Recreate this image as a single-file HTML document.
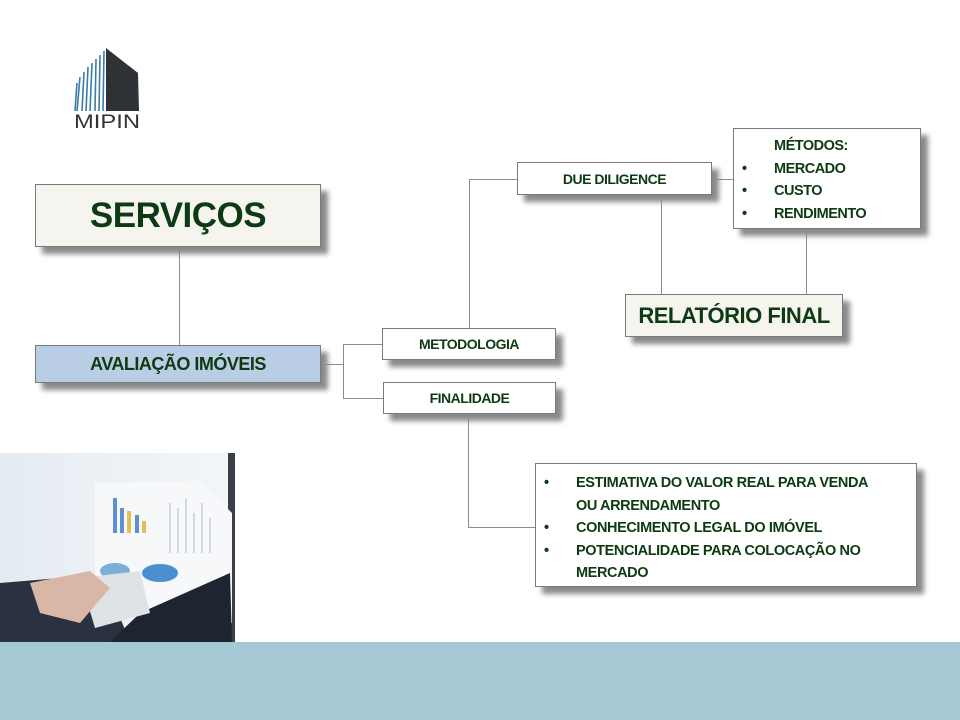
<!DOCTYPE html>
<html><head><meta charset="utf-8"><style>
body{margin:0;width:960px;height:720px;position:relative;background:#fff;overflow:hidden;font-family:"Liberation Sans",sans-serif;}
.b{position:absolute;box-sizing:border-box;border:1.5px solid #7a7a7a;background:#fff;box-shadow:7px 7px 5px #8a8a8a;color:#0d3a12;font-weight:bold;display:flex;align-items:center;justify-content:center;letter-spacing:-0.5px;}
.l{position:absolute;background:#8c8c8c;}
.h{height:1px}.v{width:1px}
ul{margin:0;padding:0;list-style:none}
li{position:relative;padding-left:40px}
li:before{content:"•";position:absolute;left:8px;}
</style></head><body>
<!-- logo -->
<svg style="position:absolute;left:70px;top:45px" width="75" height="85" viewBox="0 0 75 85">
<polygon points="36,3 68,28 69,66 36,66" fill="#2f3236"/>
<g stroke="#3a7ea8" stroke-width="1.6">
<line x1="34" y1="6" x2="33" y2="66"/><line x1="30" y1="10" x2="29" y2="66"/><line x1="26" y1="14" x2="25" y2="66"/><line x1="22" y1="18" x2="20" y2="66"/><line x1="18" y1="22" x2="16" y2="66"/><line x1="14" y1="27" x2="12" y2="66"/><line x1="10" y1="32" x2="7" y2="66"/><line x1="7" y1="38" x2="5" y2="66"/>
</g>
<text x="37" y="83" text-anchor="middle" font-family="Liberation Sans" font-size="19" fill="#333" textLength="66" lengthAdjust="spacingAndGlyphs">MIPIN</text>
</svg>

<!-- connectors -->
<div class="l v" style="left:179px;top:247px;height:98px"></div>
<div class="l h" style="left:321px;top:364px;width:22px"></div>
<div class="l v" style="left:343px;top:344px;height:55px"></div>
<div class="l h" style="left:343px;top:344px;width:39px"></div>
<div class="l h" style="left:343px;top:398px;width:40px"></div>
<div class="l v" style="left:469px;top:179px;height:149px"></div>
<div class="l h" style="left:469px;top:179px;width:48px"></div>
<div class="l h" style="left:712px;top:179px;width:21px"></div>
<div class="l v" style="left:661px;top:195px;height:99px"></div>
<div class="l v" style="left:806px;top:229px;height:65px"></div>
<div class="l v" style="left:468px;top:414px;height:113px"></div>
<div class="l h" style="left:468px;top:527px;width:67px"></div>

<div class="b" style="left:35px;top:184px;width:286px;height:63px;background:#f5f4ef;font-size:35px;">SERVIÇOS</div>
<div class="b" style="left:35px;top:345px;width:286px;height:38px;background:#b9cde4;font-size:18px;">AVALIAÇÃO IMÓVEIS</div>
<div class="b" style="left:382px;top:328px;width:174px;height:32px;font-size:14px;">METODOLOGIA</div>
<div class="b" style="left:383px;top:382px;width:173px;height:32px;font-size:14px;">FINALIDADE</div>
<div class="b" style="left:517px;top:162px;width:195px;height:33px;font-size:14px;">DUE DILIGENCE</div>
<div class="b" style="left:625px;top:294px;width:218px;height:43px;background:#f5f4ef;font-size:22px;">RELATÓRIO FINAL</div>
<div class="b" style="left:733px;top:128px;width:188px;height:101px;font-size:14.5px;display:block;padding-top:6px;line-height:22.5px;">
<div style="padding-left:40px">MÉTODOS:</div>
<ul><li>MERCADO</li><li>CUSTO</li><li>RENDIMENTO</li></ul></div>
<div class="b" style="left:535px;top:463px;width:382px;height:124px;font-size:14.5px;display:block;padding-top:8px;line-height:22.5px;letter-spacing:-0.4px;">
<ul><li>ESTIMATIVA DO VALOR REAL PARA VENDA<br>OU ARRENDAMENTO</li><li>CONHECIMENTO LEGAL DO IMÓVEL</li><li>POTENCIALIDADE PARA COLOCAÇÃO NO MERCADO</li></ul></div>

<!-- photo -->
<svg style="position:absolute;left:0;top:453px" width="235" height="189" viewBox="0 0 235 189">
<defs><linearGradient id="bg" x1="0" y1="0" x2="1" y2="0"><stop offset="0" stop-color="#e4ecf2"/><stop offset="1" stop-color="#f4f6f8"/></linearGradient></defs>
<rect width="235" height="189" fill="url(#bg)"/>
<rect x="228" y="0" width="7" height="189" fill="#3a3f48"/>
<polygon points="95,30 200,28 232,60 232,170 150,175 95,150" fill="#f7f8fa"/>
<g fill="#5f8fd0"><rect x="113" y="45" width="4" height="35"/><rect x="120" y="55" width="4" height="25"/><rect x="135" y="62" width="4" height="18"/></g>
<g fill="#e0c050"><rect x="127" y="58" width="4" height="22"/><rect x="142" y="68" width="4" height="12"/></g>
<g stroke="#b0b6bc" stroke-width="1"><line x1="170" y1="50" x2="170" y2="100"/><line x1="178" y1="55" x2="178" y2="100"/><line x1="186" y1="45" x2="186" y2="100"/><line x1="194" y1="60" x2="194" y2="100"/><line x1="202" y1="50" x2="202" y2="100"/><line x1="210" y1="65" x2="210" y2="100"/></g>
<ellipse cx="115" cy="118" rx="15" ry="8" fill="#7ab0d8"/>
<ellipse cx="160" cy="120" rx="18" ry="9" fill="#4a90d0"/>
<polygon points="0,130 60,125 110,140 130,189 0,189" fill="#2a3140"/>
<polygon points="140,160 230,120 232,189 110,189" fill="#1f2530"/>
<polygon points="80,125 140,118 150,160 95,175" fill="#dfe3e6"/>
<polygon points="30,130 90,118 110,135 80,170 40,160" fill="#d9b6a5"/>
</svg>

<div style="position:absolute;left:0;top:642px;width:960px;height:78px;background:#a4c8d4"></div>
</body></html>
